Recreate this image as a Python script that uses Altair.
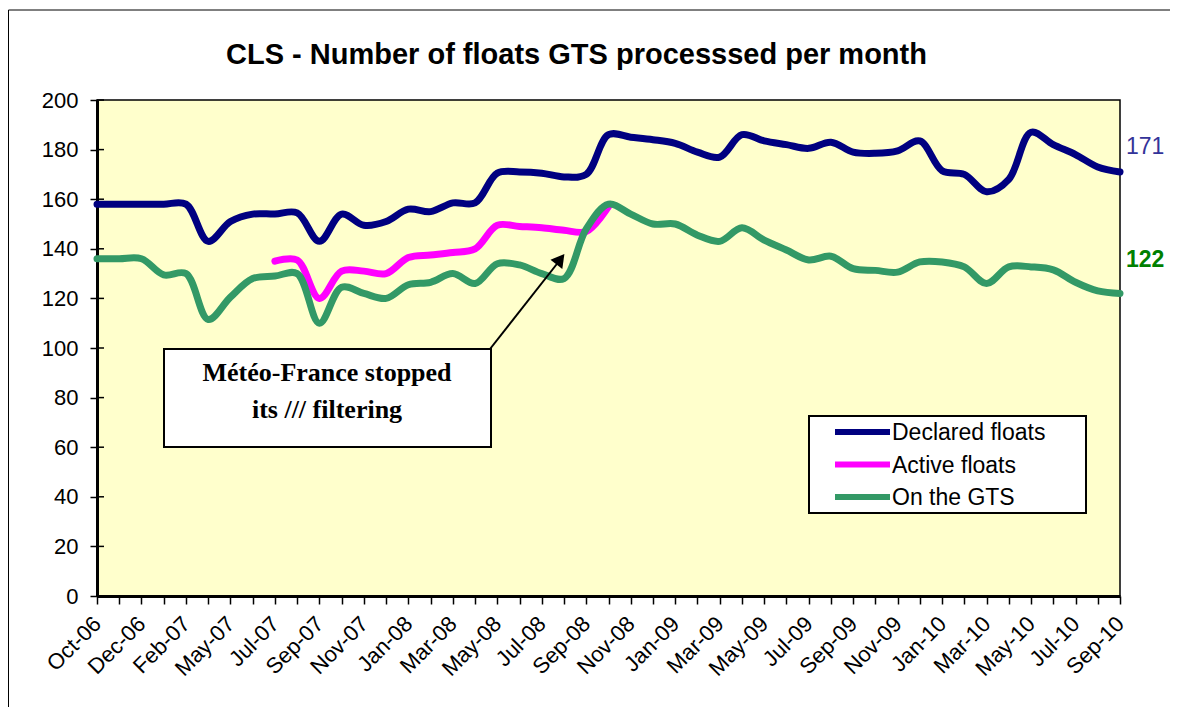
import json
import altair as alt
import pandas as pd

# ---------------- data ----------------
months = ["Oct-06", "Nov-06", "Dec-06", "Jan-07", "Feb-07", "Mar-07", "May-07", "Jun-07",
          "Jul-07", "Aug-07", "Sep-07", "Oct-07", "Nov-07", "Dec-07", "Jan-08", "Feb-08",
          "Mar-08", "Apr-08", "May-08", "Jun-08", "Jul-08", "Aug-08", "Sep-08", "Oct-08",
          "Nov-08", "Dec-08", "Jan-09", "Feb-09", "Mar-09", "Apr-09", "May-09", "Jun-09",
          "Jul-09", "Aug-09", "Sep-09", "Oct-09", "Nov-09", "Dec-09", "Jan-10", "Feb-10",
          "Mar-10", "Apr-10", "May-10", "Jun-10", "Jul-10", "Aug-10", "Sep-10"]

tick_labels = ["Oct-06", "Dec-06", "Feb-07", "May-07", "Jul-07", "Sep-07", "Nov-07", "Jan-08",
               "Mar-08", "May-08", "Jul-08", "Sep-08", "Nov-08", "Jan-09", "Mar-09", "May-09",
               "Jul-09", "Sep-09", "Nov-09", "Jan-10", "Mar-10", "May-10", "Jul-10", "Sep-10"]

declared = [158, 158, 158, 158, 158, 143, 151, 154, 154, 154.5, 143, 154, 149.5, 151, 156, 155,
            158.5, 158.5, 170.5, 171, 170.5, 169, 170, 186, 185, 184, 182.5, 179, 177, 186,
            183.5, 182, 180.5, 183, 179, 178.5, 179.5, 183.5, 171.5, 170, 163, 168, 187, 182,
            178, 173, 171]

active = [None, None, None, None, None, None, None, None,
          135, 135.5, 120, 131, 131, 130, 136.5, 137.5, 138.5, 140, 149.5, 149, 148.5, 147.5,
          147, 157,
          None, None, None, None, None, None, None, None, None, None, None, None, None, None,
          None, None, None, None, None, None, None, None, None]

on_gts = [136, 136, 136, 129.5, 130, 111.5, 120.5, 128, 129, 130, 110, 124.5, 122, 120, 125.5,
          126.5, 130, 126, 134, 133.5, 130, 128, 148, 158, 154, 150, 150, 145.5, 143, 148.5,
          143.5, 139.5, 135.5, 137, 132, 131.3, 130.6, 134.7, 134.7, 132.7, 126, 132.7, 132.7,
          131.5, 126.5, 123, 122]

y_ticks = [0, 20, 40, 60, 80, 100, 120, 140, 160, 180, 200]

series_names = ["Declared floats", "Active floats", "On the GTS"]
series_colors = ["#000080", "#FF00FF", "#339966"]
series_values = [declared, active, on_gts]

title_text = "CLS - Number of floats GTS processsed per month"
note_lines = ["Météo-France stopped", "its /// filtering"]

# ---------------- build tables ----------------
rows = []
for name, vals in zip(series_names, series_values):
    for m, v in zip(months, vals):
        if v is not None:
            rows.append({"month": m, "series": name, "value": v})
df = pd.DataFrame(rows)

W, H = 1023, 496
SANS = "Liberation Sans"

label_expr = ("indexof(" + json.dumps(tick_labels) + ", datum.value) >= 0 ? datum.value : ''")

x_axis = alt.Axis(
    labelAngle=315, labelAlign="right", labelBaseline="middle", labelExpr=label_expr,
    labelOverlap=False, labelFontSize=22, labelFont=SANS, labelColor="black", labelPadding=16,
    tickSize=8, tickWidth=1.5, tickColor="black", domainWidth=3, domainColor="black",
    grid=False, title=None,
)
y_axis = alt.Axis(
    values=y_ticks, labelFontSize=22, labelFont=SANS, labelColor="black", labelPadding=12,
    tickSize=7, tickWidth=1.5, tickColor="black", domainWidth=3, domainColor="black",
    grid=False, title=None,
)

x_scale = alt.Scale(type="point", padding=0, domain=months)
y_scale = alt.Scale(domain=[0, 200], nice=False, zero=True)
x_enc = alt.X("month:O", sort=months, scale=x_scale, axis=x_axis)
y_enc = alt.Y("value:Q", scale=y_scale, axis=y_axis)

one = pd.DataFrame({"k": [0]})
layers = []

# series lines
for name, col in zip(series_names, series_colors):
    layers.append(
        alt.Chart(df).transform_filter(alt.datum.series == name)
        .mark_line(color=col, strokeWidth=7, interpolate="catmull-rom",
                   strokeJoin="round", strokeCap="round")
        .encode(x=x_enc, y=y_enc)
    )

# inner half of the crossing y ticks
layers.append(
    alt.Chart(pd.DataFrame({"value": y_ticks})).mark_rule(color="black", strokeWidth=1.5)
    .encode(y=y_enc, x=alt.value(0), x2=alt.value(7))
)

# end labels
end_df = pd.DataFrame({
    "month": [months[-1], months[-1]],
    "value": [declared[-1], on_gts[-1]],
    "lab": [str(int(declared[-1])), str(int(on_gts[-1]))],
})
layers.append(
    alt.Chart(end_df.iloc[[0]]).mark_text(align="left", baseline="middle", dx=6, dy=-25,
                                          fontSize=23, font=SANS, color="#333399")
    .encode(x=x_enc, y=y_enc, text="lab:N")
)
layers.append(
    alt.Chart(end_df.iloc[[1]]).mark_text(align="left", baseline="middle", dx=6, dy=-33,
                                          fontSize=23, font=SANS, fontWeight="bold",
                                          color="#008000")
    .encode(x=x_enc, y=y_enc, text="lab:N")
)

# outer chart frame (left and top edges)
layers.append(
    alt.Chart(one).mark_rule(color="black", strokeWidth=1)
    .encode(x=alt.value(-88.5), y=alt.value(-90), y2=alt.value(700))
)
layers.append(
    alt.Chart(one).mark_rule(color="black", strokeWidth=1)
    .encode(x=alt.value(-88.5), x2=alt.value(1200), y=alt.value(-90))
)

# title
layers.append(
    alt.Chart(one).mark_text(align="center", baseline="middle", fontSize=29, font=SANS,
                             fontWeight="bold", color="black", text=title_text)
    .encode(x=alt.value(479.5), y=alt.value(-45))
)

# annotation box + arrow
layers.append(
    alt.Chart(one).mark_rect(fill="white", stroke="black", strokeWidth=2)
    .encode(x=alt.value(67), x2=alt.value(394), y=alt.value(249), y2=alt.value(347))
)
for j, line in enumerate(note_lines):
    layers.append(
        alt.Chart(one).mark_text(align="center", baseline="middle", fontSize=26,
                                 font="Liberation Serif", fontWeight="bold", color="black",
                                 text=line)
        .encode(x=alt.value(230), y=alt.value(273 + 37 * j))
    )
layers.append(
    alt.Chart(one).mark_rule(color="black", strokeWidth=2)
    .encode(x=alt.value(393), y=alt.value(249), x2=alt.value(463), y2=alt.value(160))
)
layers.append(
    alt.Chart(one).mark_point(shape="triangle-up", filled=True, color="black", size=225,
                              angle=38, opacity=1)
    .encode(x=alt.value(463.4), y=alt.value(159.2))
)

# legend
layers.append(
    alt.Chart(one).mark_rect(fill="white", stroke="black", strokeWidth=2)
    .encode(x=alt.value(712), x2=alt.value(989), y=alt.value(316), y2=alt.value(413))
)
for j, (name, col) in enumerate(zip(series_names, series_colors)):
    yy = 332 + 32.5 * j
    layers.append(
        alt.Chart(one).mark_rule(color=col, strokeWidth=6)
        .encode(x=alt.value(738), x2=alt.value(793), y=alt.value(yy))
    )
    layers.append(
        alt.Chart(one).mark_text(align="left", baseline="middle", fontSize=23, font=SANS,
                                 color="black", text=name)
        .encode(x=alt.value(795), y=alt.value(yy + 1))
    )

chart = (
    alt.layer(*layers)
    .properties(width=W, height=H,
                padding={"left": 89, "top": 92, "right": 50, "bottom": 111},
                autosize=alt.AutoSizeParams(type="none"))
    .configure(background="white")
    .configure_view(fill="#FFFFCC", stroke="black", strokeWidth=1.5)
)

chart.save("out.html", embed_options={"renderer": "svg", "actions": False})
